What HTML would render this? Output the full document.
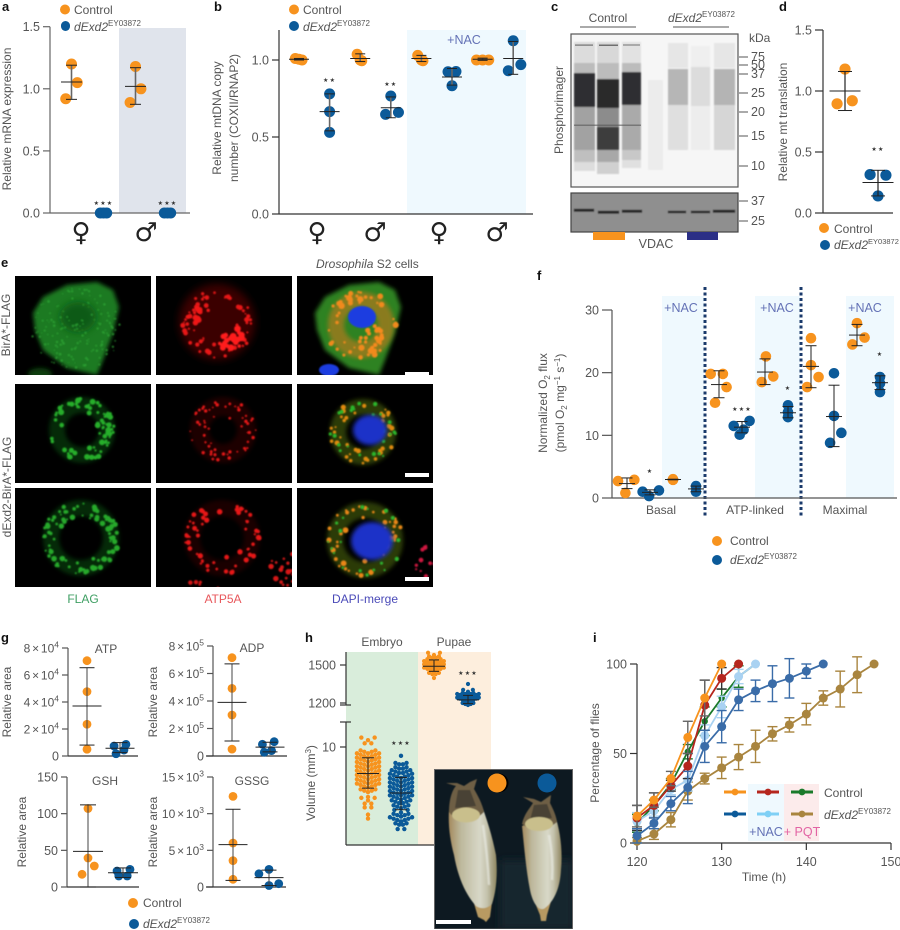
<!DOCTYPE html>
<html lang="en">
<head>
<meta charset="utf-8">
<title>dExd2 figure</title>
<style>
html,body{margin:0;padding:0;background:#fff;width:900px;height:930px;overflow:hidden}
svg{display:block;font-family:"Liberation Sans",sans-serif}
text{fill:#555;font-size:12px}
.pl{font-weight:700;fill:#111;font-size:13px}
.sym{font-family:"DejaVu Sans",sans-serif;fill:#222;font-size:26px;text-anchor:middle}
.nac{fill:#6472b6;font-size:12.5px;text-anchor:middle}
.i{font-style:italic}
.mid{text-anchor:middle}
</style>
</head>
<body>
<svg id="figure" width="900" height="930" viewBox="0 0 900 930" xmlns="http://www.w3.org/2000/svg">
<defs>
<filter id="b05" x="-20%" y="-20%" width="140%" height="140%"><feGaussianBlur stdDeviation="0.5"/></filter>
<filter id="b1" x="-30%" y="-30%" width="160%" height="160%"><feGaussianBlur stdDeviation="0.8"/></filter>
<filter id="b2" x="-30%" y="-30%" width="160%" height="160%"><feGaussianBlur stdDeviation="2"/></filter>
<filter id="b4" x="-50%" y="-50%" width="200%" height="200%"><feGaussianBlur stdDeviation="4"/></filter>
<linearGradient id="pupaL" x1="0" x2="1" y1="0" y2="0"><stop offset="0" stop-color="#a58a5e"/><stop offset=".25" stop-color="#bdb89c"/><stop offset=".65" stop-color="#d8d8c8"/><stop offset=".8" stop-color="#c4c2ac"/><stop offset="1" stop-color="#8f8560"/></linearGradient>
<clipPath id="imgClip"><rect x="434" y="769" width="139" height="160"/></clipPath>
</defs>

<!-- Background bands -->
<rect x="119" y="28" width="67" height="185" fill="#e0e4ec"/>
<rect x="407" y="30" width="119" height="184" fill="#eff9fe"/>
<rect x="662" y="296" width="42" height="202" fill="#eff9fe"/>
<rect x="755" y="296" width="45" height="202" fill="#eff9fe"/>
<rect x="846" y="296" width="48" height="202" fill="#eff9fe"/>
<rect x="346" y="652" width="72" height="193" fill="#d9eddb"/>
<rect x="418" y="652" width="73" height="193" fill="#fdeedd"/>
<rect x="748" y="784" width="36" height="57" fill="#eff9fe"/>
<rect x="784" y="784" width="35" height="57" fill="#fcebeb"/>

<!-- Panel letters -->
<text class="pl" x="2" y="11">a</text>
<text class="pl" x="214" y="11">b</text>
<text class="pl" x="551" y="11">c</text>
<text class="pl" x="779" y="11">d</text>
<text class="pl" x="1" y="267">e</text>
<text class="pl" x="537" y="280">f</text>
<text class="pl" x="1" y="642">g</text>
<text class="pl" x="305" y="642">h</text>
<text class="pl" x="593" y="642">i</text>

<!-- Panel a text -->
<circle cx="65" cy="9.5" r="5" fill="#f7931e"/>
<text x="74" y="14">Control</text>
<rect x="61" y="21" width="9" height="10" rx="4.5" fill="#0b5a99"/>
<text x="74" y="31"><tspan class="i">dExd2</tspan><tspan dy="-5" font-size="8">EY03872</tspan></text>
<text transform="translate(11,119) rotate(-90)" class="mid">Relative mRNA expression</text>
<text class="sym" x="81" y="241">♀</text>
<text class="sym" x="146" y="241">♂</text>

<!-- Panel b text -->
<circle cx="294" cy="9.5" r="5" fill="#f7931e"/>
<text x="303" y="14">Control</text>
<circle cx="294" cy="26" r="5" fill="#0b5a99"/>
<text x="303" y="31"><tspan class="i">dExd2</tspan><tspan dy="-5" font-size="8">EY03872</tspan></text>
<text transform="translate(221,118) rotate(-90)" class="mid">Relative mtDNA copy</text>
<text transform="translate(238,118) rotate(-90)" class="mid">number (COXII/RNAP2)</text>
<text class="sym" x="317" y="241">♀</text>
<text class="sym" x="375" y="241">♂</text>
<text class="sym" x="439" y="241">♀</text>
<text class="sym" x="497" y="241">♂</text>
<text class="nac" x="464" y="44">+NAC</text>

<!-- Panel c blot -->
<g>
<rect x="571" y="34" width="167" height="153" fill="#f6f6f6"/>
<g filter="url(#b1)">
<rect x="574" y="42" width="21" height="21" fill="#dcdcdc"/><rect x="597" y="42" width="22" height="21" fill="#d8d8d8"/><rect x="622" y="42" width="19" height="21" fill="#e2e2e2"/>
<rect x="574" y="63" width="21" height="10" fill="#bcbcbc"/><rect x="597" y="63" width="22" height="16" fill="#bcbcbc"/><rect x="622" y="63" width="19" height="9" fill="#bcbcbc"/>
<rect x="574" y="107" width="21" height="43" fill="#a2a2a2"/><rect x="597" y="108" width="22" height="19" fill="#8c8c8c"/><rect x="622" y="105" width="19" height="45" fill="#aaaaaa"/>
<rect x="574" y="150" width="21" height="12" fill="#bfbfbf"/><rect x="622" y="150" width="19" height="10" fill="#c8c8c8"/>
<rect x="574" y="162" width="21" height="9" fill="#dddddd"/><rect x="597" y="150" width="22" height="12" fill="#a8a8a8"/><rect x="597" y="162" width="22" height="12" fill="#d0d0d0"/><rect x="622" y="160" width="19" height="8" fill="#e0e0e0"/>
<rect x="597" y="127" width="22" height="23" fill="#3c3c3e"/>
<rect x="574" y="73" width="21" height="34" fill="#2e2e30"/><rect x="597" y="79" width="22" height="29" fill="#2a2a2c"/><rect x="622" y="72" width="19" height="33" fill="#2e2e30"/>
<rect x="668" y="43" width="20" height="25" fill="#e6e6e6"/><rect x="691" y="46" width="19" height="22" fill="#efefef"/><rect x="714" y="43" width="21" height="25" fill="#e6e6e6"/>
<rect x="668" y="69" width="20" height="36" fill="#b6b6b6"/><rect x="691" y="67" width="19" height="39" fill="#dcdcdc"/><rect x="714" y="69" width="21" height="36" fill="#b4b4b4"/>
<rect x="668" y="105" width="20" height="45" fill="#dfdfdf"/><rect x="691" y="106" width="19" height="44" fill="#ededed"/><rect x="714" y="105" width="21" height="45" fill="#d6d6d6"/>
<rect x="648" y="80" width="15" height="90" fill="#ececec"/>
</g>
<g fill="#444" opacity=".7"><rect x="575" y="44.5" width="18" height="1.2"/><rect x="599" y="44.5" width="19" height="1.5"/><rect x="623" y="44.5" width="17" height="1"/></g>
<rect x="574" y="124.5" width="67" height="1.5" fill="#555" opacity=".6"/>
<rect x="571" y="34" width="167" height="153" fill="none" stroke="#555" stroke-width="1.2"/>
</g>
<g>
<rect x="571" y="193" width="167" height="39" fill="#8f8f8f"/>
<g filter="url(#b1)" fill="#222"><rect x="574" y="209" width="20" height="2.5"/><rect x="598" y="211" width="21" height="2.5"/><rect x="622" y="210" width="20" height="2.5"/><rect x="668" y="211" width="18" height="2"/><rect x="691" y="211" width="19" height="2"/><rect x="713" y="210" width="22" height="2.5"/></g>
<rect x="571" y="193" width="167" height="39" fill="none" stroke="#444" stroke-width="1.2"/>
</g>
<rect x="593" y="232" width="32" height="8" fill="#f7931e"/>
<rect x="687" y="232" width="31" height="8" fill="#2b2f86"/>
<text class="mid" x="656" y="248" style="font-size:12.5px">VDAC</text>
<text class="mid" x="608" y="22">Control</text>
<line x1="580" y1="27" x2="636" y2="27" stroke="#555"/>
<text x="668" y="22"><tspan class="i">dExd2</tspan><tspan dy="-5" font-size="8">EY03872</tspan></text>
<line x1="673" y1="27" x2="729" y2="27" stroke="#555"/>
<text transform="translate(563,110) rotate(-90)" class="mid">Phosphorimager</text>
<text x="749" y="42">kDa</text>

<!-- Panel d text -->
<text transform="translate(787,122) rotate(-90)" class="mid">Relative mt translation</text>
<circle cx="824" cy="228" r="5" fill="#f7931e"/>
<text x="834" y="233">Control</text>
<circle cx="825" cy="245" r="5" fill="#0b5a99"/>
<text x="834" y="249"><tspan class="i">dExd2</tspan><tspan dy="-5" font-size="7.5">EY03872</tspan></text>

<!-- Panel e -->
<text x="316" y="268"><tspan class="i">Drosophila</tspan> S2 cells</text>
<text transform="translate(10,325) rotate(-90)" class="mid">BirA*-FLAG</text>
<text transform="translate(11,487) rotate(-90)" class="mid">dExd2-BirA*-FLAG</text>
<text class="mid" x="83" y="603" style="fill:#3f9f63">FLAG</text>
<text class="mid" x="223" y="603" style="fill:#e8575b">ATP5A</text>
<text class="mid" x="365" y="603" style="fill:#4a4ab8">DAPI-merge</text>
<g id="micrographs"></g>

<!-- Panel f text -->
<text class="nac" x="681" y="312">+NAC</text>
<text class="nac" x="777" y="312">+NAC</text>
<text class="nac" x="865" y="312">+NAC</text>
<text class="mid" x="661" y="514">Basal</text>
<text class="mid" x="755" y="514">ATP-linked</text>
<text class="mid" x="845" y="514">Maximal</text>
<text transform="translate(547,403) rotate(-90)" class="mid">Normalized O<tspan dy="3" font-size="8">2</tspan><tspan dy="-3"> flux</tspan></text>
<text transform="translate(564,403) rotate(-90)" class="mid">(pmol O<tspan dy="3" font-size="8">2</tspan><tspan dy="-3"> mg</tspan><tspan dy="-4" font-size="8">−1</tspan><tspan dy="4"> s</tspan><tspan dy="-4" font-size="8">−1</tspan><tspan dy="4">)</tspan></text>
<line x1="705" y1="287" x2="705" y2="516" stroke="#1a3a6b" stroke-width="3" stroke-dasharray="3 2.5"/>
<line x1="801" y1="287" x2="801" y2="516" stroke="#1a3a6b" stroke-width="3" stroke-dasharray="3 2.5"/>
<circle cx="717" cy="541" r="5" fill="#f7931e"/>
<text x="730" y="545">Control</text>
<circle cx="717" cy="560" r="5" fill="#0b5a99"/>
<text x="730" y="564"><tspan class="i">dExd2</tspan><tspan dy="-5" font-size="8">EY03872</tspan></text>

<!-- Panel g text -->
<text class="mid" x="106" y="653">ATP</text>
<text class="mid" x="252" y="652">ADP</text>
<text class="mid" x="105" y="785">GSH</text>
<text class="mid" x="252" y="785">GSSG</text>
<text transform="translate(11,702) rotate(-90)" class="mid">Relative area</text>
<text transform="translate(157,702) rotate(-90)" class="mid">Relative area</text>
<text transform="translate(26,832) rotate(-90)" class="mid">Relative area</text>
<text transform="translate(157,832) rotate(-90)" class="mid">Relative area</text>
<circle cx="133" cy="903" r="5" fill="#f7931e"/>
<text x="143" y="907">Control</text>
<circle cx="134" cy="924" r="5" fill="#0b5a99"/>
<text x="143" y="928"><tspan class="i">dExd2</tspan><tspan dy="-5" font-size="8">EY03872</tspan></text>

<!-- Panel h text -->
<text class="mid" x="382" y="646">Embryo</text>
<text class="mid" x="454" y="646">Pupae</text>
<text transform="translate(315,783) rotate(-90)" class="mid">Volume (mm<tspan dy="-4" font-size="8">3</tspan><tspan dy="4">)</tspan></text>
<line x1="346" y1="652" x2="346" y2="705" stroke="#333" stroke-width="1.2"/>
<line x1="346" y1="722" x2="346" y2="845" stroke="#333" stroke-width="1.2"/>
<line x1="346" y1="845" x2="491" y2="845" stroke="#333" stroke-width="1.2"/>
<line x1="340" y1="705" x2="351" y2="705" stroke="#333" stroke-width="1.2"/>
<line x1="340" y1="722" x2="351" y2="722" stroke="#333" stroke-width="1.2"/>

<!-- Panel i text -->
<text transform="translate(599,753) rotate(-90)" class="mid">Percentage of flies</text>
<text class="mid" x="764" y="881">Time (h)</text>
<text class="nac" x="766" y="836">+NAC</text>
<text class="nac" x="802" y="836" style="fill:#e264a4">+ PQT</text>
<text x="824" y="797">Control</text>
<text x="824" y="819"><tspan class="i">dExd2</tspan><tspan dy="-5" font-size="8">EY03872</tspan></text>
<g id="charts"></g>

<!-- Pupa photo -->
<g clip-path="url(#imgClip)">
<rect x="434" y="769" width="139" height="160" fill="#0d1921"/>
<rect x="500" y="860" width="73" height="69" fill="#16262e" filter="url(#b4)"/>
<g filter="url(#b05)">
<path fill="#b89a62" d="M473 900 L492 902 L490 917 L486 922 L484 920 L478 917 Z"/>
<path fill="url(#pupaL)" d="M449 810 C448 825 450 840 454 855 C458 878 466 895 476 906 C482 910 488 908 492 904 C496 892 498 875 496 855 C492 835 487 820 482 806 Z"/>
<path fill="#6e5f45" d="M449 812 C449 800 452 790 456 786 L446 783 L457 783 L464 786 L470 782 L477 779 L474 789 C478 796 482 803 484 812 C470 826 458 824 449 812 Z"/>
<path fill="#3c3a30" d="M458 790 L470 790 L476 806 L455 808 Z" opacity=".75"/>
<ellipse cx="466" cy="815" rx="14" ry="7.5" fill="#c9bf8c"/>
<path fill="#b89a62" d="M533 898 L552 898 L547 915 L546 921 L541 921 L540 915 Z"/>
<path fill="url(#pupaL)" d="M522 826 C524 845 526 870 530 890 C533 905 540 912 545 908 C553 902 560 890 561 870 C563 850 560 830 555 815 Z"/>
<path fill="#6e5f45" d="M522 824 C524 814 530 808 533 803 L523 797 L534 799 L541 802 L551 795 L550 803 C553 809 556 815 557 822 C545 832 532 832 522 824 Z"/>
<path fill="#3c3a30" d="M534 805 L547 804 L552 818 L530 820 Z" opacity=".75"/>
<ellipse cx="539" cy="824" rx="14" ry="7" fill="#c9bf8c"/>
</g>
<g stroke="#eef0ea" stroke-width="2.5" fill="none" opacity=".6" filter="url(#b1)">
<path d="M483 825 C486 845 488 865 489 885"/><path d="M549 835 C552 850 553 865 552 880"/></g>
<rect x="436" y="920" width="35" height="4" fill="#fff"/>
<circle cx="499" cy="783" r="9.5" fill="#000"/>
<circle cx="497" cy="783" r="9.5" fill="#f7931e"/>
<circle cx="547" cy="783" r="9.5" fill="#0b5a99"/>
<rect x="434.5" y="769.5" width="138" height="159.5" fill="none" stroke="#666"/>
</g>
</svg>

<script>
/* Panel a */
const aGroups = ['female-control','female-mutant','male-control','male-mutant'];
const aValues = [[1.2,1.05,0.92],[0,0,0],[1.18,1.0,0.89],[0,0,0]];
const aJitter = [[0,0.18,-0.18],[-0.1,0,0.1],[0,0.17,-0.17],[-0.1,0,0.1]];
const aMeans = [1.055,null,1.02,null];
const aUpper = [1.19,null,1.17,null];
const aLower = [0.915,null,0.875,null];
const aTicks = [0,0.5,1,1.5];
const aTickLabels = ['0.0','0.5','1.0','1.5'];

/* Panel b */
const bGroups = ['f-control','f-mutant','m-control','m-mutant','f-control-nac','f-mutant-nac','m-control-nac','m-mutant-nac'];
const bValues = [[1.01,1.0,1.005],[0.78,0.665,0.53],[1.037,0.995,1.0],[0.766,0.66,0.647],[1.03,0.995,1.0],[0.924,0.925,0.833],[1.0,1.0,1.0],[1.125,0.97,0.93]];
const bJitter = [[-0.12,0.1,0],[0,0,0],[-0.1,0.05,0],[0,0.25,-0.17],[-0.12,0.05,0],[-0.13,0.13,0],[-0.2,0.2,0],[0,0.25,-0.16]];
const bMeans = [1.005,0.665,1.01,0.69,1.01,0.89,1.005,1.01];
const bUpper = [1.01,0.78,1.04,0.76,1.03,0.945,1.012,1.12];
const bLower = [1.0,0.54,0.99,0.625,0.99,0.837,0.998,0.907];
const bTicks = [0,0.5,1];
const bTickLabels = ['0.0','0.5','1.0'];

/* Panel c ladders */
const cMainLadder = [75,50,37,25,20,15,10];
const cMainMarkerY = [57,65,74,93,112,136,166];
const cLowerLadder = [37,25];
const cLowerMarkerY = [201,221];

/* Panel d */
const dGroups = ['control','mutant'];
const dValues = [[1.18,0.92,0.895],[0.315,0.31,0.14]];
const dJitter = [[0,0.22,-0.24],[-0.24,0.24,0]];
const dMeans = [1.0,0.25];
const dUpper = [1.16,0.35];
const dLower = [0.84,0.14];
const dTicks = [0,0.5,1,1.5];
const dTickLabels = ['0.0','0.5','1.0','1.5'];

/* Panel f */
const fGroups = ['basal-c','basal-m','basal-c-nac','basal-m-nac','atp-c','atp-m','atp-c-nac','atp-m-nac','max-c','max-m','max-c-nac','max-m-nac'];
const fValues = [[2.7,2.9,0.8],[1.0,0.3,1.2],[2.9,3.0],[1.9,1.0],[19.8,19.8,17.7,15.2],[11.5,12.3,10.1,10.9],[22.6,19.4,18.5],[14.8,12.9,13.7],[25.5,21.2,19.3,17.7],[19.9,13.1,10.4,8.8],[27.9,25.6,24.5],[19.3,18.3,16.9]];
const fJitter = [[-0.39,0.32,-0.07],[-0.32,-0.04,0.39],[0,0],[0,0],[-0.36,0.17,0.33,-0.17],[-0.36,0.33,-0.1,0.07],[0.04,0.36,-0.14],[0,0,0],[0,0,0.33,-0.17],[0,0,0.32,-0.17],[0,0.33,-0.2],[0,0,0]];
const fMeans = [2.3,0.9,2.95,1.45,18.1,11.3,20.1,13.6,21,13,26,18.4];
const fUpper = [3.2,1.3,3.0,1.9,20.3,12.2,22.2,14.6,24.3,18,27.7,19.5];
const fLower = [1.5,0.5,2.9,1.0,16,10.4,18.1,12.8,17.6,8.2,24.3,17.3];
const fTicks = [0,10,20,30];
const fTickLabels = ['0','10','20','30'];

/* Panel g */
const gAtpValues = [[7.06,4.77,2.35,0.5],[0.74,0.86,0.44,0.17]];
const gAtpJitter = [[0,0,0,0],[-0.18,0.18,0.12,-0.12]];
const gAtpMeans = [3.7,0.57];
const gAtpUpper = [6.54,0.99];
const gAtpLower = [0.81,0.25];
const gAtpTicks = [0,2,4,6,8];
const gAtpTickLabels = ['0','2 × 10^4','4 × 10^4','6 × 10^4','8 × 10^4'];

const gAdpValues = [[7.15,4.92,2.98,0.5],[0.85,1.04,0.39,0.27]];
const gAdpJitter = [[0,0,0,0],[-0.2,0.11,0.04,-0.15]];
const gAdpMeans = [3.9,0.65];
const gAdpUpper = [6.7,1.0];
const gAdpLower = [1.09,0.3];
const gAdpTicks = [0,2,4,6,8];
const gAdpTickLabels = ['0','2 × 10^5','4 × 10^5','6 × 10^5','8 × 10^5'];

const gGshValues = [[107,39.5,28.6,17.3],[21.8,24,15,15]];
const gGshJitter = [[0,0,0.18,-0.17],[-0.17,0.2,-0.12,0.12]];
const gGshMeans = [48.6,19.5];
const gGshUpper = [112,26];
const gGshLower = [0,13];
const gGshTicks = [0,50,100,150];
const gGshTickLabels = ['0','50','100','150'];

const gGssgValues = [[12.36,6,3.6,1.05],[1.8,2.4,0.2,0.45]];
const gGssgJitter = [[0,0,0,0],[-0.28,0,0,0.27]];
const gGssgMeans = [5.77,1.27];
const gGssgUpper = [10.6,2.3];
const gGssgLower = [0.9,0.2];
const gGssgTicks = [0,5,10,15];
const gGssgTickLabels = ['0','5 × 10^3','10 × 10^3','15 × 10^3'];

/* Panel h swarm values (mm3) */
const hEmbryoControl = [10.7,10.7,10.7,10.25,10.25,9.36,9.36,9.36,9.36,9.36,8.92,8.92,8.92,8.92,8.92,8.92,8.92,8.48,8.48,8.48,8.48,8.48,8.48,8.48,8.04,8.04,8.04,8.04,8.04,8.04,8.04,7.6,7.6,7.6,7.6,7.6,7.6,7.6,7.16,7.16,7.16,7.16,7.16,7.16,7.16,6.72,6.72,6.72,6.72,6.72,6.72,6.72,6.28,6.28,6.28,6.28,6.28,6.28,6.28,5.84,5.84,5.84,5.84,5.84,5.84,5.84,5.4,5.4,5.4,5.4,5.4,4.9,4.55,4.55,4.55,4.1,4.1,3.7,3.7,3.1,2.7];
const hEmbryoMutant = [9.1,8.16,8.16,8.16,8.16,7.72,7.72,7.72,7.72,7.28,7.28,7.28,7.28,7.28,7.28,6.84,6.84,6.84,6.84,6.84,6.84,6.84,6.4,6.4,6.4,6.4,6.4,6.4,6.4,5.96,5.96,5.96,5.96,5.96,5.96,5.96,5.52,5.52,5.52,5.52,5.52,5.52,5.52,5.08,5.08,5.08,5.08,5.08,5.08,5.08,4.64,4.64,4.64,4.64,4.64,4.64,4.64,4.2,4.2,4.2,4.2,4.2,4.2,3.76,3.76,3.76,3.76,3.76,3.32,3.32,3.32,2.9,2.9,2.9,2.9,2.9,2.4,2.4,2.4,2.4,2.4,2.4,2.4,2.0,2.0,2.0,2.0,1.5,1.5];
const hPupaeControl = [1579,1579,1579,1553,1553,1553,1553,1527,1527,1527,1527,1527,1501,1501,1501,1501,1501,1501,1501,1475,1475,1475,1475,1475,1475,1475,1449,1449,1449,1449,1449,1449,1449,1423,1423,1423,1423,1397];
const hPupaeMutant = [1350,1289,1289,1289,1263,1263,1263,1263,1263,1239,1239,1239,1239,1239,1239,1239,1239,1239,1210,1210,1210,1210,1210,1210,1210,1210,1210,1184,1184,1184,1184,1184];
const hEmbryoStats = [[7.3,8.9,5.8],[5.3,6.9,3.6]];
const hPupaeStats = [[1490,1540,1450],[1225,1260,1195]];
const hUpperTicks = [1200,1500];
const hUpperTickLabels = ['1200','1500'];
const hLowerTicks = [10];
const hLowerTickLabels = ['10'];

/* Panel i */
const iTime = [120,122,124,126,128,130,132,134,136,138,140,142,144,146,148];
const iControl = [15,24,36,59,81,100];
const iControlErr = [6,4,4,9,10,0];
const iControlNac = [14,21,32,43,77,92,100];
const iControlNacErr = [7,7,3,7,14,6,0];
const iControlPqt = [11,21,33,51,68,81,93,100];
const iControlPqtErr = [5,3,3,4,8,5,6,0];
const iMutant = [4,11,22,31,54,65,80,85,89,92,96,100];
const iMutantErr = [4,3,4,9,9,9,6,6,10,11,4,0];
const iMutantNac = [12,18,30,35,60,76,93,100];
const iMutantNacErr = [5,3,3,6,6,6,4,0];
const iMutantPqt = [1,5,13,29,36,42,48,54,61,66,72,81,86,94,100];
const iMutantPqtErr = [2,3,4,5,3,6,7,9,4,4,6,4,10,10,0];
const iXTicks = [120,130,140,150];
const iYTicks = [0,50,100];

const ORANGE = '#f7931e';
const BLUE = '#0b5a99';
const NS = 'http://www.w3.org/2000/svg';
const charts = document.getElementById('charts');

function mk(tag, attrs, parent) {
  const el = document.createElementNS(NS, tag);
  for (const k in attrs) el.setAttribute(k, attrs[k]);
  (parent || charts).appendChild(el);
  return el;
}
function linear(d0, d1, r0, r1) {
  return v => r0 + (v - d0) * (r1 - r0) / (d1 - d0);
}
function setLabel(el, s) {
  const parts = String(s).split('^');
  el.textContent = parts[0];
  if (parts[1]) {
    el.setAttribute('style', 'font-size:12px;word-spacing:-1.5px');
    const sup = document.createElementNS(NS, 'tspan');
    sup.setAttribute('dy', '-5');
    sup.setAttribute('font-size', '8.5');
    sup.textContent = parts[1];
    el.appendChild(sup);
  }
}
function yAxis(axisX, y, ticks, labels, tickLen, top, bottom, color) {
  const line = mk('line', {x1: axisX, x2: axisX, y1: top, y2: bottom, stroke: color, 'stroke-width': 1.2});
  
  
  ticks.forEach((t, i) => {
    const tk = mk('line', {x1: axisX - tickLen, x2: axisX, y1: y(t), y2: y(t), stroke: color, 'stroke-width': 1.2});
    
    
    const lb = mk('text', {x: axisX - tickLen - 3, y: y(t) + 4.5, 'text-anchor': 'end', style: 'font-size:12.5px'});
    setLabel(lb, labels[i]);
    
    
  });
}
function xAxisLine(x1, x2, y0, color) {
  const line = mk('line', {x1: x1, x2: x2, y1: y0, y2: y0, stroke: color, 'stroke-width': 1.2});
  
  
}
function errorBar(cx, y, mean, up, low, meanHalf, capHalf, stemColor, stemW) {
  const stem = mk('line', {x1: cx, x2: cx, y1: y(up), y2: y(low), stroke: stemColor, 'stroke-width': stemW});
  
  
  const m = mk('line', {x1: cx - meanHalf, x2: cx + meanHalf, y1: y(mean), y2: y(mean), stroke: '#222', 'stroke-width': 1});
  
  
  const capU = mk('line', {x1: cx - capHalf, x2: cx + capHalf, y1: y(up), y2: y(up), stroke: '#222', 'stroke-width': 1});
  
  
  const capL = mk('line', {x1: cx - capHalf, x2: cx + capHalf, y1: y(low), y2: y(low), stroke: '#222', 'stroke-width': 1});
  
  
}
function dotPanel(x, y, values, jitter, means, upper, lower, r, meanHalf, capHalf, stemColor, stemW) {
  values.forEach((vals, i) => {
    const color = i % 2 ? BLUE : ORANGE;
    vals.forEach((v, k) => {
      const c = mk('circle', {cx: x(i + jitter[i][k]), cy: y(v), r: r, fill: color});
      
      
    });
  });
  values.forEach((vals, i) => {
    if (means[i] !== null) errorBar(x(i), y, means[i], upper[i], lower[i], meanHalf, capHalf, stemColor, stemW);
  });
}
function stars(cx, yPos, label) {
  const t = mk('text', {x: cx, y: yPos, 'text-anchor': 'middle', style: 'font-family:"DejaVu Sans",sans-serif;font-size:6px;letter-spacing:1.2px;fill:#333'});
  t.textContent = label;
  
  
}

/* a */
const aY = linear(0, 1.5, 213, 26.7);
const aX = linear(0, 1, 71.5, 103.5);
yAxis(50, aY, aTicks, aTickLabels, 7, 26.7, 213, '#666');
xAxisLine(50, 190, 213, '#666');
dotPanel(aX, aY, aValues, aJitter, aMeans, aUpper, aLower, 5.5, 10.5, 5.5, '#666', 1.6);
stars(aX(1), 205, '★★★');
stars(aX(3), 205, '★★★');

/* b */
const bY = linear(0, 1, 214, 60);
const bX = linear(0, 1, 299, 329.6);
yAxis(279, bY, bTicks, bTickLabels, 7, 30, 214, '#333');
xAxisLine(279, 533, 214, '#333');
dotPanel(bX, bY, bValues, bJitter, bMeans, bUpper, bLower, 5.5, 10, 5, '#666', 1.6);
stars(bX(1), 82, '★★');
stars(bX(3), 86, '★★');

/* c ladder */
function ladder(labels, ys) {
  labels.forEach((lab, i) => {
    const tk = mk('line', {x1: 739, x2: 748, y1: ys[i], y2: ys[i], stroke: '#555'});
    
    
    const t = mk('text', {x: 751, y: ys[i] + 4, style: 'font-size:12.5px'});
    t.textContent = lab;
    
    
  });
}
ladder(cMainLadder, cMainMarkerY);
ladder(cLowerLadder, cLowerMarkerY);

/* d */
const dY = linear(0, 1.5, 213, 30);
const dX = linear(0, 1, 845, 878);
yAxis(823, dY, dTicks, dTickLabels, 8, 30, 213, '#333');
xAxisLine(823, 893, 213, '#333');
dotPanel(dX, dY, dValues, dJitter, dMeans, dUpper, dLower, 5.6, 15.5, 7, '#222', 1.2);
stars(dX(1), 151, '★★');

/* f */
const fY = linear(0, 30, 498, 310);
const fX = linear(0, 1, 627, 650);
yAxis(612, fY, fTicks, fTickLabels, 10, 310, 498, '#555');
xAxisLine(612, 897, 498, '#555');
dotPanel(fX, fY, fValues, fJitter, fMeans, fUpper, fLower, 5.3, 8, 5.5, '#222', 1);
stars(fX(1), 473, '★');
stars(fX(5), 411, '★★★');
stars(fX(7), 390, '★');
stars(fX(11), 356, '★');

/* g */
const gAtpY = linear(0, 8, 756, 648);
const gAtpX = linear(0, 1, 87, 120);
yAxis(68, gAtpY, gAtpTicks, gAtpTickLabels, 6, 648, 756, '#555');
xAxisLine(68, 138, 756, '#333');
dotPanel(gAtpX, gAtpY, gAtpValues, gAtpJitter, gAtpMeans, gAtpUpper, gAtpLower, 4.4, 14.5, 7.5, '#444', 1);

const gAdpY = linear(0, 8, 756, 646);
const gAdpX = linear(0, 1, 232, 270);
yAxis(213, gAdpY, gAdpTicks, gAdpTickLabels, 6, 646, 756, '#555');
xAxisLine(206, 287, 756, '#333');
dotPanel(gAdpX, gAdpY, gAdpValues, gAdpJitter, gAdpMeans, gAdpUpper, gAdpLower, 4.4, 14.5, 7.5, '#444', 1);

const gGshY = linear(0, 150, 887, 777);
const gGshX = linear(0, 1, 88, 123);
yAxis(67, gGshY, gGshTicks, gGshTickLabels, 6, 777, 887, '#555');
xAxisLine(67, 139, 887, '#333');
dotPanel(gGshX, gGshY, gGshValues, gGshJitter, gGshMeans, gGshUpper, gGshLower, 4.4, 15, 8, '#444', 1);

const gGssgY = linear(0, 15, 887, 777);
const gGssgX = linear(0, 1, 233, 269);
yAxis(213, gGssgY, gGssgTicks, gGssgTickLabels, 6, 777, 887, '#555');
xAxisLine(206, 286, 887, '#333');
dotPanel(gGssgX, gGssgY, gGssgValues, gGssgJitter, gGssgMeans, gGssgUpper, gGssgLower, 4.4, 14.5, 7.5, '#444', 1);

/* h */
const hLowerY = linear(0, 10, 845, 747);
const hUpperY = linear(1200, 1500, 703, 665);
function swarm(values, cx, y, color, r, sp) {
  const rows = new Map();
  values.forEach(v => rows.set(v, (rows.get(v) || 0) + 1));
  rows.forEach((n, v) => {
    const step = n <= 3 ? sp * 1.8 : sp;
    for (let k = 0; k < n; k++) {
      const dx = (k - (n - 1) / 2) * step;
      const c = mk('circle', {cx: cx + dx, cy: y(v) - Math.abs(dx) * 0.38, r: r, fill: color});
      
      
    }
  });
}
swarm(hEmbryoControl, 368, hLowerY, ORANGE, 2.2, 3.7);
swarm(hEmbryoMutant, 401, hLowerY, BLUE, 2.2, 3.7);
swarm(hPupaeControl, 434, hUpperY, ORANGE, 2.1, 3.3);
swarm(hPupaeMutant, 468, hUpperY, BLUE, 2.1, 2.7);
errorBar(368, hLowerY, hEmbryoStats[0][0], hEmbryoStats[0][1], hEmbryoStats[0][2], 11, 6, '#222', 1);
errorBar(401, hLowerY, hEmbryoStats[1][0], hEmbryoStats[1][1], hEmbryoStats[1][2], 11, 6, '#222', 1);
errorBar(434, hUpperY, hPupaeStats[0][0], hPupaeStats[0][1], hPupaeStats[0][2], 11, 5, '#222', 1);
errorBar(468, hUpperY, hPupaeStats[1][0], hPupaeStats[1][1], hPupaeStats[1][2], 11, 5, '#222', 1);
stars(401, 745, '★★★');
stars(468, 675, '★★★');
hUpperTicks.forEach((t, i) => {
  const tk = mk('line', {x1: 340, x2: 346, y1: hUpperY(t), y2: hUpperY(t), stroke: '#333', 'stroke-width': 1.2});
  
  
  const lb = mk('text', {x: 336, y: hUpperY(t) + 4.5, 'text-anchor': 'end', style: 'font-size:12.5px'});
  lb.textContent = hUpperTickLabels[i];
  
  
});
hLowerTicks.forEach((t, i) => {
  const tk = mk('line', {x1: 340, x2: 346, y1: hLowerY(t), y2: hLowerY(t), stroke: '#333', 'stroke-width': 1.2});
  
  
  const lb = mk('text', {x: 336, y: hLowerY(t) + 4.5, 'text-anchor': 'end', style: 'font-size:12.5px'});
  lb.textContent = hLowerTickLabels[i];
  
  
});

/* i */
const iX = linear(120, 150, 637, 891);
const iY = linear(0, 100, 843, 664);
yAxis(637, iY, iYTicks, iYTicks.map(String), 7, 664, 843, '#333');
xAxisLine(637, 891, 843, '#333');
iXTicks.forEach(t => {
  const tk = mk('line', {x1: iX(t), x2: iX(t), y1: 843, y2: 850, stroke: '#333', 'stroke-width': 1.2});
  
  
  const lb = mk('text', {x: iX(t), y: 866, 'text-anchor': 'middle', style: 'font-size:12.5px'});
  lb.textContent = t;
  
  
});
function survivalSeries(values, errs, color, errColor, r) {
  values.forEach((v, i) => {
    const t = iTime[i];
    if (errs[i] > 0) {
      const s = mk('line', {x1: iX(t), x2: iX(t), y1: iY(v + errs[i]), y2: iY(Math.max(v - errs[i], 0)), stroke: errColor, 'stroke-width': 1.4});
      
      
      [v + errs[i], Math.max(v - errs[i], 0)].forEach(e => {
        const cap = mk('line', {x1: iX(t) - 5, x2: iX(t) + 5, y1: iY(e), y2: iY(e), stroke: errColor, 'stroke-width': 1.4});
        
        
      });
    }
  });
  const line = mk('polyline', {points: values.map((v, i) => iX(iTime[i]) + ',' + iY(v)).join(' '), fill: 'none', stroke: color, 'stroke-width': 1.8});
  
  
  values.forEach((v, i) => {
    const c = mk('circle', {cx: iX(iTime[i]), cy: iY(v), r: r, fill: color});
    
    
  });
}
survivalSeries(iMutantPqt, iMutantPqtErr, '#a9853f', '#a9853f', 4.5);
survivalSeries(iControlPqt, iControlPqtErr, '#1a7a2a', '#1a7a2a', 3.2);
survivalSeries(iMutantNac, iMutantNacErr, '#a9d2f2', '#a9d2f2', 4.5);
survivalSeries(iControlNac, iControlNacErr, '#b5261e', '#333', 4.5);
survivalSeries(iMutant, iMutantErr, '#3a6ca8', '#3a6ca8', 4.5);
survivalSeries(iControl, iControlErr, '#f7931e', '#666', 4.5);

function legendKey(x1, y0, color) {
  const l = mk('line', {x1: x1, x2: x1 + 22, y1: y0, y2: y0, stroke: color, 'stroke-width': 3});
  
  
  const c = mk('circle', {cx: x1 + 11, cy: y0, r: 3.4, fill: color});
  
  
}
legendKey(724, 792, '#f7931e');
legendKey(757, 792, '#b5261e');
legendKey(791, 792, '#1a7a2a');
legendKey(724, 814, '#0b5a99');
legendKey(757, 814, '#7fd0f5');
legendKey(791, 814, '#a9853f');

/* e micrographs (decorative image approximation) */
const gridEl = document.getElementById('micrographs');
const colX = [15, 156, 297];
const rowY = [[276, 99], [384, 99], [488, 99]];
let seed = 1;
function rnd() { seed = (seed * 16807) % 2147483647; return seed / 2147483647; }
function spots(parent, cx, cy, rIn, rOut, n, fill, rMin, rMax, s, opacity) {
  seed = s;
  const g = mk('g', {filter: 'url(#b1)', fill: fill, opacity: opacity || 1}, parent);
  for (let i = 0; i < n; i++) {
    const a = rnd() * 6.2832;
    const rr = rIn + (rOut - rIn) * Math.sqrt(rnd());
    mk('circle', {cx: cx + Math.cos(a) * rr, cy: cy + Math.sin(a) * rr * 0.95, r: rMin + (rMax - rMin) * rnd()}, g);
  }
}
function ringFill(parent, cx, cy, rIn, rOut, fill, op) {
  mk('circle', {cx: cx, cy: cy, r: (rIn + rOut) / 2, fill: 'none', stroke: fill, 'stroke-width': rOut - rIn, opacity: op, filter: 'url(#b2)'}, parent);
}
const GREEN_CELL = 'M33 313 L43 297 L67 285 L97 282 L113 290 L119 307 L113 333 L103 360 L97 375 L67 368 L43 350 L35 330 Z';
let clipCount = 0;
function tile(col, row) {
  const x = colX[col], y = rowY[row][0], h = rowY[row][1];
  const cp = mk('clipPath', {id: 'tile' + (clipCount++)}, gridEl);
  mk('rect', {x: x, y: y, width: 136, height: h}, cp);
  const g = mk('g', {'clip-path': 'url(#' + cp.id + ')'}, gridEl);
  mk('rect', {x: x, y: y, width: 136, height: h, fill: '#000'}, g);
  return g;
}
/* row 1 */
{
  let g = tile(0, 0);
  mk('path', {d: GREEN_CELL, fill: '#1c7a22', filter: 'url(#b2)'}, g);
  mk('ellipse', {cx: 78, cy: 317, rx: 18, ry: 15, fill: '#0d5a14', filter: 'url(#b4)'}, g);
  spots(g, 76, 330, 0, 44, 150, '#2fa635', 0.5, 1.3, 11, 0.8);
  mk('ellipse', {cx: 40, cy: 374, rx: 12, ry: 6, fill: '#0a3d10', filter: 'url(#b2)'}, g);
  g = tile(1, 0);
  mk('circle', {cx: 217, cy: 322, r: 38, fill: '#3a0404', filter: 'url(#b4)'}, g);
  spots(g, 217, 325, 17, 36, 60, '#e81414', 0.8, 2.6, 23);
  spots(g, 230, 338, 0, 13, 22, '#ff1c1c', 1.5, 3.4, 29);
  spots(g, 197, 312, 0, 12, 10, '#f01818', 1.5, 3.2, 31);
  g = tile(2, 0);
  mk('path', {d: GREEN_CELL, fill: '#2f8220', filter: 'url(#b2)', transform: 'translate(282,0)'}, g);
  ringFill(g, 361, 325, 17, 33, '#c8781a', 0.6);
  spots(g, 361, 325, 17, 36, 45, '#f08a1c', 1, 3.2, 37);
  spots(g, 372, 338, 0, 13, 16, '#f58a1a', 1.5, 3.2, 39);
  mk('ellipse', {cx: 362, cy: 317, rx: 14, ry: 11, fill: '#1a3ce0', filter: 'url(#b1)'}, g);
  mk('ellipse', {cx: 329, cy: 370, rx: 10, ry: 6, fill: '#1a3ce0', filter: 'url(#b1)'}, g);
}
/* row 2 */
{
  let g = tile(0, 1);
  ringFill(g, 82, 430, 17, 33, '#0f6a16', 0.4);
  spots(g, 82, 430, 15, 33, 75, '#25ae2a', 1, 3, 41);
  g = tile(1, 1);
  ringFill(g, 223, 430, 14, 33, '#3a0000', 0.5);
  spots(g, 223, 430, 12, 33, 60, '#e81616', 0.8, 1.8, 53);
  g = tile(2, 1);
  ringFill(g, 363, 432, 17, 33, '#4a6410', 0.6);
  spots(g, 363, 432, 16, 33, 40, '#e08a10', 1, 2.6, 61);
  spots(g, 363, 432, 16, 33, 24, '#2bb52b', 1, 2.2, 67);
  mk('ellipse', {cx: 370, cy: 430, rx: 17, ry: 15, fill: '#1a30c8', filter: 'url(#b2)'}, g);
  mk('rect', {x: 405, y: 473, width: 24, height: 4, fill: '#fff'}, g);
}
/* row 3 */
{
  let g = tile(0, 2);
  ringFill(g, 81, 538, 22, 38, '#0f6a16', 0.4);
  spots(g, 81, 538, 20, 38, 85, '#25a82a', 0.9, 3, 71);
  g = tile(1, 2);
  ringFill(g, 222, 538, 22, 38, '#3a0000', 0.45);
  spots(g, 222, 538, 20, 38, 60, '#e81616', 1, 2.8, 83);
  spots(g, 290, 568, 0, 20, 30, '#d81414', 1, 2.8, 89);
  spots(g, 204, 588, 0, 16, 14, '#d81414', 1, 2.4, 97);
  g = tile(2, 2);
  ringFill(g, 365, 540, 22, 38, '#4a6410', 0.6);
  spots(g, 365, 540, 20, 38, 40, '#ea8614', 1, 3, 101);
  spots(g, 365, 540, 20, 38, 20, '#2db52f', 1, 2.2, 103);
  mk('ellipse', {cx: 372, cy: 541, rx: 21, ry: 19, fill: '#1a30c8', filter: 'url(#b2)'}, g);
  spots(g, 433, 563, 0, 20, 25, '#d01440', 1, 2.6, 107);
  mk('rect', {x: 405, y: 577, width: 24, height: 4, fill: '#fff'}, g);
}
{
  /* row 1 scale bar sits above merge tile */
  const bar = mk('rect', {x: 405, y: 372, width: 24, height: 4, fill: '#fff'}, gridEl);
  
  
}
</script>
</body>
</html>
